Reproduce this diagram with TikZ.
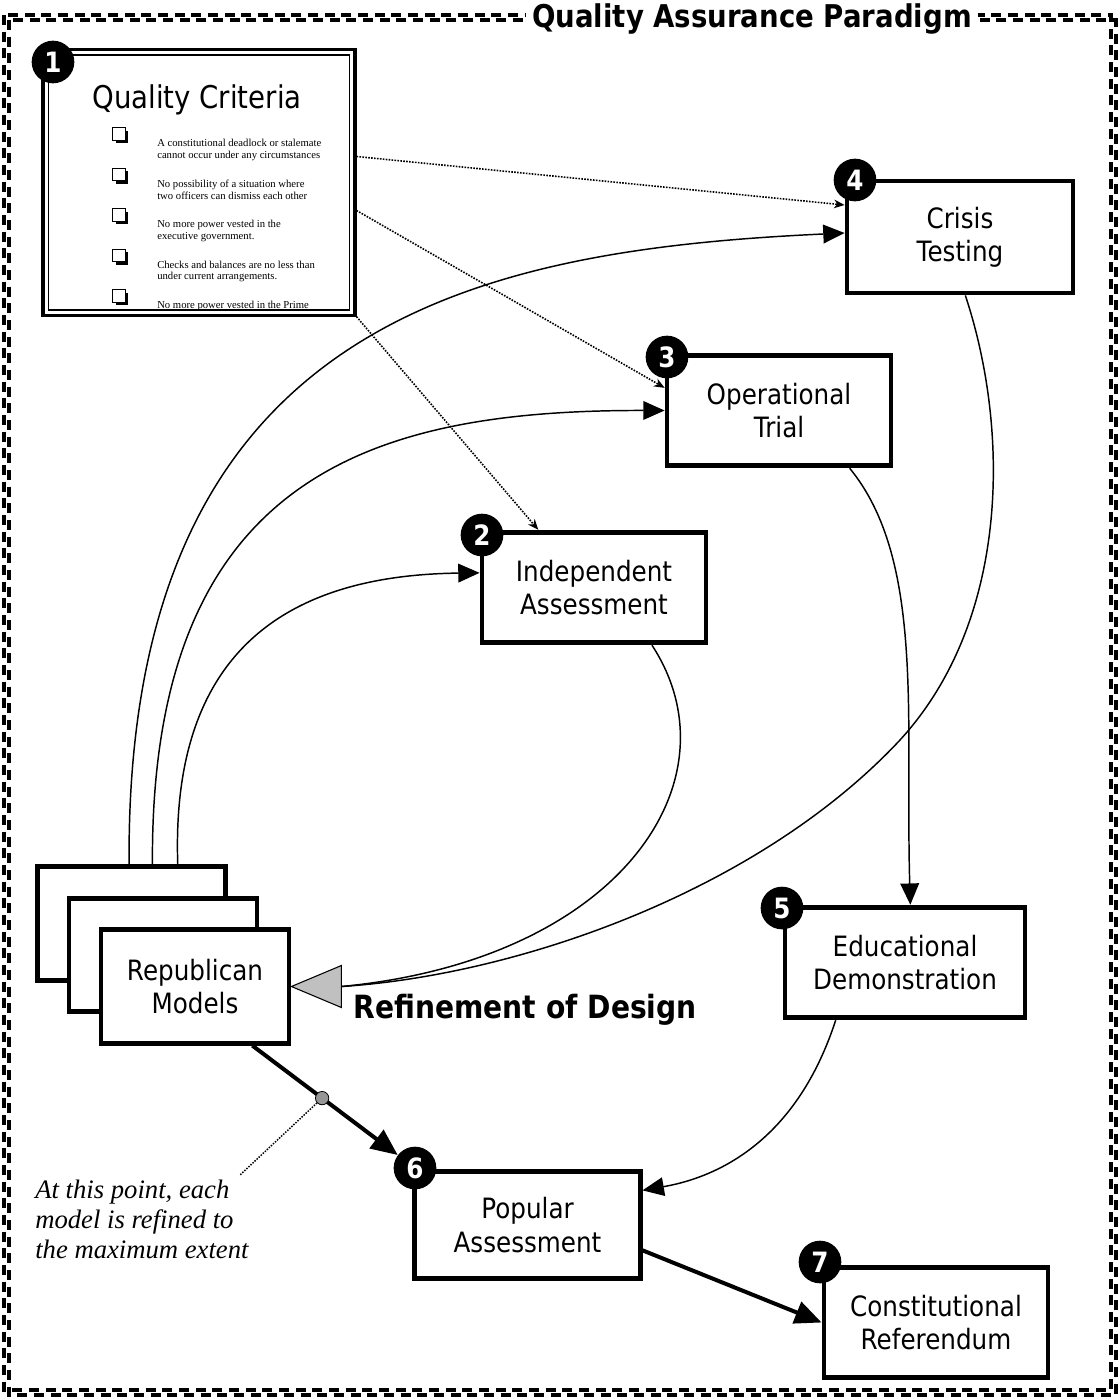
\documentclass[tikz,border=0pt]{standalone}
\usepackage{fontspec}
\setmainfont{DejaVu Sans}[FakeStretch=0.88]
\newfontfamily\timesfont{Liberation Serif}
\usetikzlibrary{arrows.meta}
\definecolor{trigray}{RGB}{192,192,192}
\definecolor{dotgray}{RGB}{150,150,150}
\begin{document}
\begin{tikzpicture}[x=0.75pt,y=-0.75pt,
  stage/.style={draw, line width=3.6pt, fill=white, align=center,
    font=\fontsize{21}{25}\selectfont, inner sep=0pt},
  badge/.style={circle, fill=black, text=white, minimum size=32pt, inner sep=0pt,
    font=\fontsize{21}{21}\selectfont\bfseries},
  flow/.style={line width=1.1pt, -{Triangle[length=16pt,width=14pt]}},
  ret/.style={line width=1.1pt},
  crit/.style={densely dotted, line width=1.2pt, -{Stealth[length=8pt,width=6.5pt]}},
  heavy/.style={line width=3pt, -{Triangle[length=20pt,width=17pt]}},
  outerframe/.style={dash pattern=on 7.5pt off 5pt, line width=2.7pt},
  chkbox/.style={draw, fill=white, minimum size=9.5pt, inner sep=0pt, line width=0.9pt},
  chkshade/.style={fill=black, minimum size=9.5pt, inner sep=0pt},
  itemtext/.style={anchor=north west, align=left, inner sep=0pt,
    font=\timesfont\fontsize{8}{8.8}\selectfont},
]
\useasboundingbox (0,0) rectangle (1120,1400);

% double dashed outer frame with its heading
\draw[outerframe] (4,15) rectangle (1111,1390);
\draw[outerframe] (9,20) rectangle (1116,1395);
\node[fill=white, font=\fontsize{23.5}{24}\selectfont\bfseries, inner xsep=5pt, inner ysep=1pt]
  (heading) at (752,19) {Quality Assurance Paradigm};

% quality criteria sheet
\node[draw, line width=2.3pt, fill=white, minimum width=234pt, minimum height=199pt, inner sep=0pt]
  (qc) at (199,182.5) {};
\node[font=\fontsize{23.5}{23.5}\selectfont] (qctitle) at (197,100) {Quality Criteria};
\begin{scope}
  \clip (47,55) rectangle (351,310);
  \foreach \k/\y in {1/134,2/174.5,3/215,4/255.5,5/296} {
    \node[chkshade] (s\k) at (122,\y+3) {};
    \node[chkbox] (c\k) at (119,\y) {};
  }
  \node[itemtext] (it1) at (157,139) {A constitutional deadlock or stalemate\\cannot occur under any circumstances};
  \node[itemtext] (it2) at (157,179.5) {No possibility of a situation where\\two officers can dismiss each other};
  \node[itemtext] (it3) at (157,220) {No more power vested in the\\executive government.};
  \node[itemtext] (it4) at (157,260.5) {Checks and balances are no less than\\under current arrangements.};
  \node[itemtext] (it5) at (157,301) {No more power vested in the Prime\\Minister.};
\end{scope}
\node[draw, line width=1.1pt, minimum width=226pt, minimum height=191pt, inner sep=0pt]
  (qcin) at (qc.center) {};

% stages
\node[stage, minimum width=169.5pt, minimum height=84pt] (crisis) at (960,237) {Crisis\\Testing};
\node[stage, minimum width=168pt, minimum height=83pt] (optrial) at (779,410.5) {Operational\\Trial};
\node[stage, minimum width=168pt, minimum height=83pt] (indep) at (594,587.5) {Independent\\Assessment};
\node[stage, minimum width=180pt, minimum height=83pt] (edu) at (905,962.5) {Educational\\Demonstration};
\node[stage, minimum width=169pt, minimum height=80pt] (popular) at (527.5,1225) {Popular\\Assessment};
\node[stage, minimum width=168pt, minimum height=83pt] (referendum) at (936,1322.5) {Constitutional\\Referendum};

% stack of republican models
\node[stage, minimum width=141pt, minimum height=85pt] (rep3) at (131.5,923.5) {};
\node[stage, minimum width=141pt, minimum height=85pt] (rep2) at (163,955) {};
\node[stage, minimum width=141pt, minimum height=85pt] (rep1) at (195,986.5) {Republican\\Models};

% numbered badges
\node[badge] (b1) at (53,62) {1};
\node[badge] (b2) at (482,535) {2};
\node[badge] (b3) at (667,357) {3};
\node[badge] (b4) at (855,180) {4};
\node[badge] (b5) at (782,908) {5};
\node[badge] (b6) at (415,1168) {6};
\node[badge] (b7) at (820,1262) {7};

% models sent out to the first three stages
\draw[flow] ([xshift=70.5pt]rep3.north west) .. controls (125,320) and (480,250) .. ([yshift=3pt]crisis.west);
\draw[flow] ([xshift=88pt]rep3.north west) .. controls (150,470) and (380,410) .. (optrial.west);
\draw[flow] ([xshift=107pt]rep3.north west) .. controls (170,640) and (300,575) .. ([yshift=11pt]indep.west);

% criteria applied to the tests
\draw[crit] ([yshift=19.5pt]qc.east) -- ([yshift=24pt]crisis.west);
\draw[crit] ([yshift=-21pt]qc.east) -- ([yshift=17pt]optrial.west);
\draw[crit] (qc.south east) -- ([xshift=44pt]indep.north west);

% feedback into the design
\coordinate (tribase) at ([xshift=37.5pt]rep1.east);
\draw[ret] ([xshift=43.5pt]indep.south) .. controls (740,780) and (620,960) .. (tribase);
\draw[ret] ([xshift=4pt]crisis.south) .. controls (1010,430) and (1010,620) .. (900,740)
  .. controls (760,890) and (520,975) .. (tribase);
\draw[line width=0.8pt, fill=trigray] (rep1.east) -- ([yshift=15.75pt]tribase) -- ([yshift=-15.75pt]tribase) -- cycle;
\node[anchor=west, font=\fontsize{24}{24}\selectfont\bfseries] (refine) at (349,1010) {Refinement of Design};

% onward path
\draw[flow] ([xshift=53pt]optrial.south) .. controls (925,560) and (905,720) .. ([xshift=4pt]edu.north);
\draw[flow] ([xshift=-52pt]edu.south) .. controls (800,1130) and (730,1175) .. ([yshift=26pt]popular.east);
\draw[heavy] ([xshift=43pt]rep1.south) -- node[pos=0.48, circle, draw, line width=0.6pt, fill=dotgray,
  minimum size=10pt, inner sep=0pt] (gd) {} (b6);
\draw[heavy] ([yshift=-19pt]popular.east) -- (referendum.west);

% annotation
\coordinate (noteend) at (240,1175);
\draw[densely dotted, line width=1.1pt] (gd) -- (noteend);
\node[anchor=north west, align=left, inner sep=0pt, font=\timesfont\itshape\fontsize{20}{22.5}\selectfont]
  (note) at (35,1180) {At this point, each\\model is refined to\\the maximum extent};
\end{tikzpicture}
\end{document}
